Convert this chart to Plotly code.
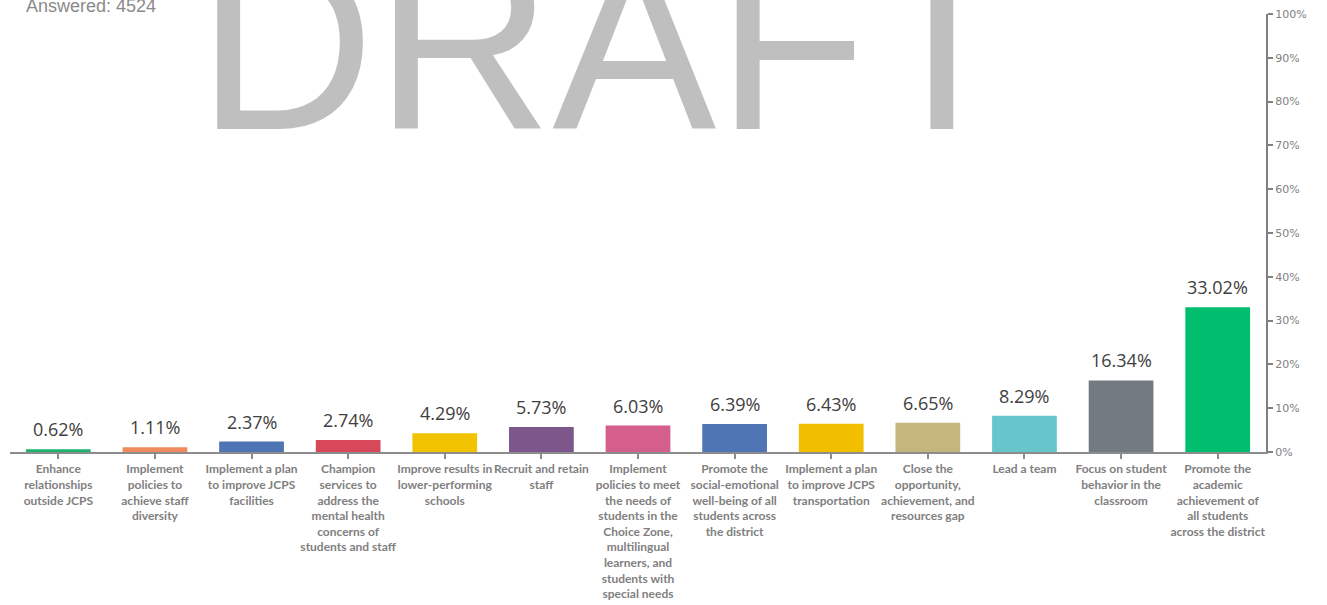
import plotly.graph_objects as go

categories = [
    "Enhance<br>relationships<br>outside JCPS",
    "Implement<br>policies to<br>achieve staff<br>diversity",
    "Implement a plan<br>to improve JCPS<br>facilities",
    "Champion<br>services to<br>address the<br>mental health<br>concerns of<br>students and staff",
    "Improve results in<br>lower-performing<br>schools",
    "Recruit and retain<br>staff",
    "Implement<br>policies to meet<br>the needs of<br>students in the<br>Choice Zone,<br>multilingual<br>learners, and<br>students with<br>special needs",
    "Promote the<br>social-emotional<br>well-being of all<br>students across<br>the district",
    "Implement a plan<br>to improve JCPS<br>transportation",
    "Close the<br>opportunity,<br>achievement, and<br>resources gap",
    "Lead a team",
    "Focus on student<br>behavior in the<br>classroom",
    "Promote the<br>academic<br>achievement of<br>all students<br>across the district",
]
values = [0.62, 1.11, 2.37, 2.74, 4.29, 5.73, 6.03, 6.39, 6.43, 6.65, 8.29, 16.34, 33.02]
colors = ["#1DB36E", "#F08A5D", "#4E74B4", "#D7485B", "#F2C300", "#7D568B",
          "#D45F8C", "#4F75B4", "#F2BF00", "#C4B67D", "#67C6CC", "#737B82", "#00BE6E"]
y_ticks = [0, 10, 20, 30, 40, 50, 60, 70, 80, 90, 100]
answered = "Answered: 4524"

fig = go.Figure()
fig.add_trace(go.Bar(
    x=list(range(len(categories))), y=values,
    marker=dict(color=colors, line=dict(width=0)),
    hoverinfo="skip",
))

for i, v in enumerate(values):
    fig.add_annotation(
        x=i, y=v, xref="x", yref="y", text=f"{v:.2f}%", showarrow=False,
        yanchor="bottom", yshift=6,
        font=dict(family="Open Sans", size=18, color="#404040"),
    )

fig.add_annotation(
    x=0.4755, y=0.615, xref="paper", yref="paper", text="DRAFT", showarrow=False,
    xanchor="center", yanchor="bottom",
    font=dict(family="Liberation Sans, Arial", size=246, color="rgba(0,0,0,0.25)"),
)
fig.add_annotation(
    x=0.011, y=0.99, xref="paper", yref="paper", text=answered, showarrow=False,
    xanchor="left", yanchor="bottom",
    font=dict(family="Liberation Sans, Arial", size=18, color="#8A8A8A"),
)

fig.update_layout(
    width=1327, height=605,
    margin=dict(l=10, r=61, t=14, b=153),
    plot_bgcolor="white", paper_bgcolor="white",
    showlegend=False, bargap=0.33,
    xaxis=dict(
        tickmode="array", tickvals=list(range(len(categories))), ticktext=categories,
        range=[-0.5, len(categories) - 0.5], automargin=False,
        showline=True, linecolor="#8C8C8C", linewidth=2,
        ticks="outside", tickson="boundaries", ticklen=5, tickcolor="#8C8C8C", tickwidth=2,
        tickangle=0, showgrid=False, zeroline=False,
        tickfont=dict(family="Lato", size=12, color="#808080", weight="bold"),
    ),
    yaxis=dict(
        side="right", range=[0, 100], tickvals=y_ticks, automargin=False,
        ticktext=[f"{t}%" for t in y_ticks],
        showline=True, linecolor="#7F7F7F", linewidth=2,
        ticks="outside", ticklen=5, tickcolor="#7F7F7F", tickwidth=2,
        showgrid=False, zeroline=False,
        tickfont=dict(family="DejaVu Sans", size=11, color="#808080"),
    ),
)

fig.write_html("out.html")
